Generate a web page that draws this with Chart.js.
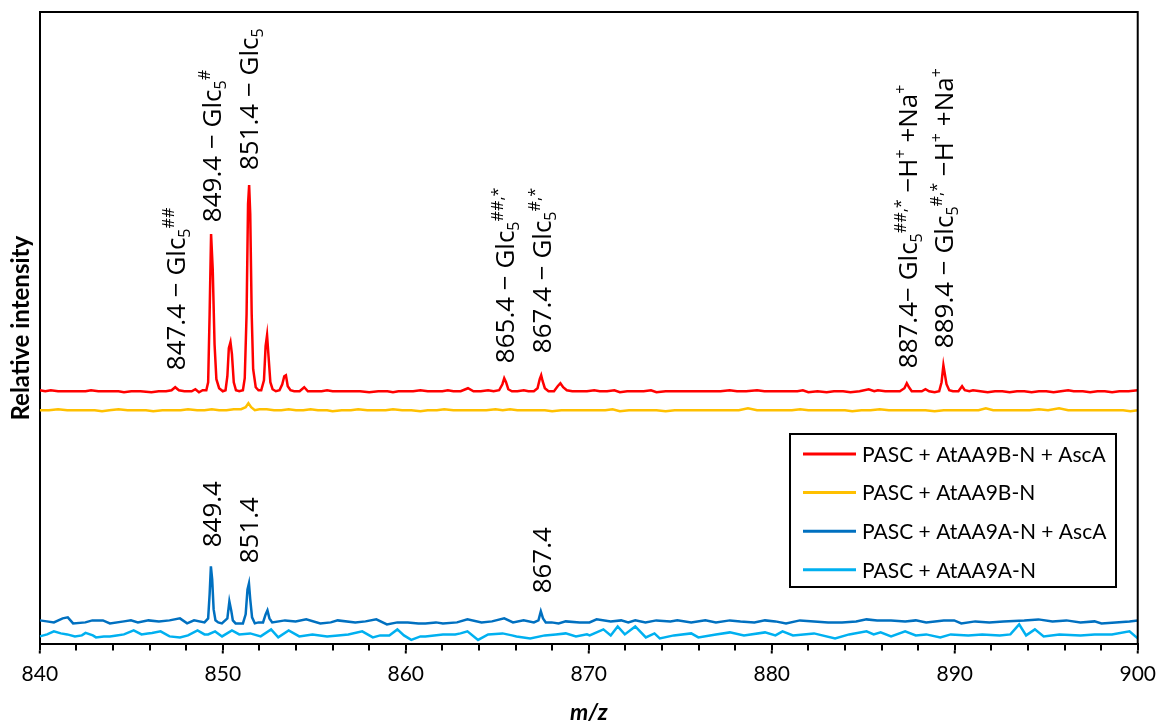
<!DOCTYPE html>
<html>
<head>
<meta charset="utf-8">
<title>MALDI spectra – PASC oxidation products</title>
<script src="https://cdn.jsdelivr.net/npm/chart.js@4.4.1/dist/chart.umd.min.js"></script>
<style>
  html, body { margin: 0; padding: 0; background: #fff; }
</style>
</head>
<body>
<canvas id="spectra" width="1159" height="726"></canvas>
<script>
// ── Data (m/z, relative intensity incl. trace offset) ─────────────

const seriesLabels = [
  'PASC + AtAA9B-N + AscA',
  'PASC + AtAA9B-N',
  'PASC + AtAA9A-N + AscA',
  'PASC + AtAA9A-N',
];

const xTicks = [840, 850, 860, 870, 880, 890, 900];

const redTrace = [
  [840.0,254],[840.3,253],[840.6,254],[841.0,253],[841.5,253],[842.0,253],[842.5,253],[842.8,254],[843.2,253],[843.8,253],
  [844.3,253],[844.6,252],[845.0,253],[845.5,253],[846.1,252],[846.5,253],[846.9,253],[847.2,254],[847.4,257],[847.6,254],
  [847.9,253],[848.3,253],[848.5,255],[848.7,252],[848.9,254],[849.1,254],[849.2,262],[849.28,330],[849.36,410],[849.45,375],
  [849.55,300],[849.65,265],[849.8,256],[850.0,253],[850.15,254],[850.25,268],[850.33,296],[850.42,302],[850.5,290],[850.6,262],
  [850.72,254],[850.9,253],[851.1,254],[851.2,266],[851.3,330],[851.38,440],[851.44,459],[851.5,430],[851.58,330],[851.66,275],
  [851.8,257],[851.95,254],[852.1,254],[852.25,264],[852.34,298],[852.42,309],[852.5,288],[852.6,262],[852.72,255],[852.9,253],
  [853.1,254],[853.25,260],[853.36,268],[853.45,269],[853.55,258],[853.7,254],[853.9,253],[854.2,253],[854.45,257],[854.65,253],
  [855.0,253],[855.4,253],[855.7,254],[856.0,253],[856.5,253],[857.0,253],[857.5,253],[858.0,252],[858.5,253],[859.0,253],
  [859.3,252],[859.6,253],[860.0,253],[860.4,253],[860.8,254],[861.2,253],[861.6,253],[862.0,253],[862.3,254],[862.6,253],
  [863.0,253],[863.4,256],[863.7,253],[864.1,253],[864.5,254],[864.8,253],[865.1,254],[865.28,260],[865.38,266],[865.48,262],
  [865.6,255],[865.8,253],[866.1,253],[866.45,254],[866.7,253],[867.0,253],[867.2,256],[867.32,265],[867.4,269],[867.48,263],
  [867.6,256],[867.8,253],[868.1,253],[868.3,258],[868.45,261],[868.6,257],[868.8,254],[869.1,253],[869.5,253],[869.9,253],
  [870.3,254],[870.6,253],[871.0,253],[871.4,254],[871.7,252],[872.1,253],[872.6,253],[873.0,253],[873.4,254],[873.7,252],
  [874.2,253],[874.8,253],[875.4,253],[876.0,253],[876.6,253],[877.2,253],[877.7,254],[878.1,253],[878.6,253],[879.2,254],
  [879.6,253],[880.0,253],[880.5,253],[881.0,253],[881.4,253],[881.7,254],[882.0,252],[882.5,253],[883.0,252],[883.4,253],
  [883.9,253],[884.3,252],[884.8,253],[885.3,255],[885.6,253],[885.8,254],[886.2,253],[886.6,253],[887.0,253],[887.25,256],
  [887.38,261],[887.5,257],[887.65,253],[887.9,253],[888.2,253],[888.4,255],[888.6,253],[888.9,252],[889.15,253],[889.28,262],
  [889.38,279],[889.46,270],[889.55,260],[889.7,254],[889.9,253],[890.2,253],[890.4,258],[890.55,254],[890.8,253],[891.0,254],
  [891.4,253],[891.8,252],[892.2,253],[892.6,253],[893.0,252],[893.4,253],[893.8,253],[894.2,252],[894.6,253],[895.0,253],
  [895.4,252],[895.8,253],[896.2,254],[896.5,253],[897.0,253],[897.4,252],[897.8,253],[898.2,253],[898.6,252],[899.0,253],
  [899.5,253],[900.0,254],
];

const orangeTrace = [
  [840.0,234],[840.5,234],[841.0,235],[841.5,234],[842.0,234],[842.5,234],[843.0,234],[843.4,233],[843.8,234],[844.3,235],
  [844.8,234],[845.3,234],[845.8,234],[846.2,233],[846.7,234],[847.2,234],[847.7,234],[848.1,235],[848.6,234],[849.0,234],
  [849.4,235],[849.8,234],[850.2,234],[850.6,235],[851.0,235],[851.25,237],[851.4,241],[851.55,237],[851.75,234],[852.0,235],
  [852.4,235],[852.8,234],[853.2,234],[853.6,235],[854.0,234],[854.4,234],[854.8,235],[855.2,234],[855.7,234],[856.0,233],
  [856.5,234],[857.0,234],[857.4,235],[857.9,234],[858.4,234],[858.9,234],[859.3,235],[859.8,234],[860.3,234],[860.8,233],
  [861.2,234],[861.7,234],[862.1,235],[862.6,234],[863.1,234],[863.6,234],[864.0,234],[864.4,234],[864.9,235],[865.3,234],
  [865.7,235],[866.1,234],[866.6,234],[867.1,234],[867.6,234],[868.0,233],[868.5,234],[869.0,234],[869.5,234],[870.0,234],
  [870.4,234],[870.9,234],[871.3,235],[871.7,233],[872.2,234],[872.7,234],[873.2,234],[873.7,234],[874.2,233],[874.7,234],
  [875.2,234],[875.7,234],[876.2,234],[876.7,234],[877.2,234],[877.7,234],[878.2,234],[878.7,236],[879.2,234],[879.7,234],
  [880.2,234],[880.7,234],[881.1,234],[881.55,235],[882.0,234],[882.5,234],[883.0,234],[883.5,234],[884.0,234],[884.4,233],
  [884.9,234],[885.4,234],[885.9,235],[886.4,234],[886.9,234],[887.4,234],[887.9,234],[888.4,234],[888.9,233],[889.4,234],
  [889.9,234],[890.4,234],[890.9,234],[891.3,234],[891.7,236],[892.1,234],[892.6,234],[893.1,234],[893.6,234],[894.1,234],
  [894.6,235],[895.1,234],[895.7,236],[896.2,234],[896.7,234],[897.2,234],[897.7,234],[898.2,234],[898.7,234],[899.2,234],
  [899.6,233],[900.0,234],
];

const blueTrace = [
  [840.0,24],[840.38,23],[840.77,22],[841.25,26],[841.53,27],[841.82,21],[842.49,22],[842.87,24],[843.45,24],[843.83,21],
  [844.6,23],[844.98,24],[845.36,22],[845.94,24],[846.51,23],[847.09,24],[847.66,26],[848.05,21],[848.43,24],[849.0,22],
  [849.2,26],[849.28,50],[849.35,78],[849.42,65],[849.5,35],[849.6,24],[849.75,22],[849.95,21],[850.25,26],[850.36,43],
  [850.46,34],[850.55,24],[850.7,21],[850.9,21],[851.1,21],[851.25,30],[851.35,55],[851.43,61],[851.5,45],[851.6,27],
  [851.75,21],[851.95,22],[852.2,22],[852.34,30],[852.44,34],[852.55,26],[852.7,22],[853.4,24],[853.98,23],[854.56,25],
  [855.33,21],[855.9,22],[856.28,24],[857.24,22],[857.8,23],[858.39,25],[858.97,20],[859.54,22],[860.11,22],[860.69,21],
  [861.07,21],[861.65,22],[862.03,21],[862.8,22],[863.37,25],[864.14,22],[864.71,23],[865.38,26],[865.86,22],[866.44,24],
  [867.0,22],[867.25,24],[867.38,33],[867.5,26],[867.65,22],[867.97,22],[868.35,21],[868.74,23],[869.5,22],[870.04,22],
  [870.43,25],[871.2,23],[871.77,24],[872.16,22],[872.54,24],[873.1,22],[873.69,24],[874.46,23],[874.84,24],[875.6,22],
  [876.37,24],[876.95,22],[877.71,24],[878.29,23],[879.05,22],[879.63,24],[880.2,23],[880.78,21],[881.54,24],[882.31,23],
  [883.08,22],[883.84,22],[884.61,23],[885.18,25],[885.76,24],[886.52,24],[887.29,23],[887.87,24],[888.44,22],[889.4,24],
  [889.97,24],[890.36,21],[891.12,23],[891.89,22],[892.66,23],[893.8,24],[894.57,25],[895.34,23],[896.1,24],[896.87,22],
  [897.64,23],[898.02,21],[898.79,22],[899.55,23],[900.0,24],
];

const skyTrace = [
  [840.0,8],[840.4,10],[840.77,13],[841.15,11],[841.5,10],[841.92,8],[842.3,9],[842.5,11.5],[842.9,9],[843.07,7],
  [843.5,8],[843.83,8],[844.2,9],[844.6,10],[845.13,14],[845.56,10],[845.9,11],[846.13,11.5],[846.6,13],[847.09,8],
  [847.66,7],[848.1,9],[848.62,14],[849.0,10],[849.2,10],[849.58,13],[849.96,8],[850.5,14],[850.9,10],[851.5,11],
  [852.07,8],[852.64,15],[853.03,7],[853.6,14],[854.18,8],[854.9,10],[855.7,8],[856.3,9],[856.86,10],[857.62,13],
  [858.2,7],[858.6,9],[859.1,9],[859.54,15],[859.9,9],[860.3,4.5],[860.8,8],[861.07,8],[862.03,10],[862.7,10],
  [862.99,11],[863.37,13],[863.95,4.5],[864.5,10],[865.29,11],[865.8,9],[866.05,8],[866.8,6],[867.6,9],[868.2,10],
  [868.74,11],[869.3,8],[869.9,10],[870.05,9],[870.8,15],[871.2,9],[871.58,18],[871.97,10],[872.54,18],[873.12,7],
  [873.59,11],[873.88,6],[874.65,9],[875.6,11],[875.99,7],[876.95,10],[877.71,12],[878.48,9],[879.63,12],[880.2,9],
  [880.59,13],[881.16,9],[882.31,11],[883.46,6],[884.23,10],[885.18,13],[885.57,10],[885.95,12],[886.52,8],[887.29,13],
  [887.87,9],[888.44,10],[889.21,7],[889.78,10],[890.74,9],[891.5,10],[892.46,9],[893.04,10],[893.52,20],[893.9,9],
  [894.38,15],[894.86,8],[895.72,10],[896.87,9],[897.64,10],[898.59,10],[899.55,13],[900.0,6],
];

// peak labels: m/z of the peak, intensity where the label starts, rich-text parts
const redLabelMz = [847.4, 849.4, 851.4, 865.4, 867.4, 887.4, 889.4];
const redLabelAt = [274, 422, 474, 281, 291, 276, 296];
const redLabelText = [
  [['847.4 − Glc'], ['5', 'sub'], ['##', 'sup']],
  [['849.4 − Glc'], ['5', 'sub'], ['#', 'sup']],
  [['851.4 − Glc'], ['5', 'sub']],
  [['865.4 − Glc'], ['5', 'sub'], ['##,*', 'sup']],
  [['867.4 − Glc'], ['5', 'sub'], ['#,*', 'sup']],
  [['887.4− Glc'], ['5', 'sub'], ['##,*', 'sup'], [' −H'], ['+', 'sup'], [' +Na'], ['+', 'sup']],
  [['889.4 − Glc'], ['5', 'sub'], ['#,*', 'sup'], [' −H'], ['+', 'sup'], [' +Na'], ['+', 'sup']],
];
const blueLabelMz = [849.4, 851.4, 867.4];
const blueLabelAt = [97, 81, 51];
const blueLabelText = ['849.4', '851.4', '867.4'];

const COLORS = ['#ff0000', '#ffc000', '#0070c0', '#00b0f0'];
const FONT = 'Lato';
const LABEL_FONT = '"Open Sans"';

// ── Helpers ───────────────────────────────────────────────────────

function toPoints(trace) {
  return trace.map(([x, y]) => ({ x, y }));
}

// rotated (bottom-to-top) text with sub/superscripts, body centred on x
function drawRotatedRich(ctx, parts, x, y, size) {
  ctx.save();
  ctx.translate(x, y);
  ctx.rotate(-Math.PI / 2);
  ctx.textBaseline = 'alphabetic';
  ctx.textAlign = 'left';
  ctx.fillStyle = '#000';
  const base = size * 0.36;
  let pos = 0;
  parts.forEach(([text, kind]) => {
    const s = kind ? size * 0.62 : size;
    let dy = base;
    if (kind === 'sub') dy += size * 0.2;
    if (kind === 'sup') dy -= size * 0.42;
    ctx.font = `${s}px ${LABEL_FONT}`;
    ctx.fillText(text, pos, dy);
    pos += ctx.measureText(text).width;
  });
  ctx.restore();
}

// ── Plugin: frame, longer major ticks, peak labels, legend ────────

const decorations = {
  id: 'decorations',
  afterDraw(chart) {
    const { ctx, chartArea: a, scales: { x, y } } = chart;

    // top and right border of the plot box
    ctx.save();
    ctx.strokeStyle = '#000';
    ctx.lineWidth = 2;
    ctx.beginPath();
    ctx.moveTo(a.left, a.top);
    ctx.lineTo(a.right, a.top);
    ctx.lineTo(a.right, a.bottom);
    ctx.stroke();

    // major ticks are a bit longer
    ctx.beginPath();
    xTicks.forEach(v => {
      const px = x.getPixelForValue(v);
      ctx.moveTo(px, a.bottom + 6);
      ctx.lineTo(px, a.bottom + 9);
    });
    ctx.stroke();
    ctx.restore();

    // peak labels
    redLabelMz.forEach((mz, i) => {
      drawRotatedRich(ctx, redLabelText[i], x.getPixelForValue(mz), y.getPixelForValue(redLabelAt[i]), 26);
    });
    blueLabelMz.forEach((mz, i) => {
      drawRotatedRich(ctx, [[blueLabelText[i]]], x.getPixelForValue(mz), y.getPixelForValue(blueLabelAt[i]), 26);
    });

    // legend box
    const box = { left: 790, top: 434, width: 326, height: 153 };
    ctx.save();
    ctx.fillStyle = '#fff';
    ctx.fillRect(box.left, box.top, box.width, box.height);
    ctx.strokeStyle = '#000';
    ctx.lineWidth = 2;
    ctx.strokeRect(box.left, box.top, box.width, box.height);
    ctx.font = `21px ${FONT}`;
    ctx.textBaseline = 'middle';
    ctx.fillStyle = '#000';
    chart.data.datasets.forEach((ds, i) => {
      const rowY = box.top + 20 + i * 38.6;
      ctx.strokeStyle = ds.borderColor;
      ctx.lineWidth = 3;
      ctx.beginPath();
      ctx.moveTo(box.left + 13, rowY);
      ctx.lineTo(box.left + 66, rowY);
      ctx.stroke();
      ctx.fillText(ds.label, box.left + 72, rowY + 1);
    });
    ctx.restore();
  },
};

// ── Chart ─────────────────────────────────────────────────────────

const traces = [redTrace, orangeTrace, blueTrace, skyTrace];

new Chart(document.getElementById('spectra'), {
  type: 'line',
  data: {
    datasets: traces.map((trace, i) => ({
      label: seriesLabels[i],
      data: toPoints(trace),
      borderColor: COLORS[i],
      borderWidth: 2.5,
      pointRadius: 0,
      tension: 0,
      fill: false,
    })),
  },
  options: {
    responsive: false,
    animation: false,
    devicePixelRatio: 1,
    layout: { padding: { left: 4, right: 13, top: 12, bottom: 0 } },
    scales: {
      x: {
        type: 'linear',
        min: 840,
        max: 900,
        ticks: {
          stepSize: 2,
          autoSkip: false,
          maxRotation: 0,
          padding: 3,
          color: '#000',
          font: { family: FONT, size: 21, lineHeight: 2 },
          callback: v => (v % 10 === 0 ? v : ''),
        },
        grid: { drawOnChartArea: false, drawTicks: true, tickLength: 6, color: '#000', lineWidth: 2 },
        border: { display: true, color: '#000', width: 2 },
        title: {
          display: true,
          text: 'm/z',
          color: '#000',
          font: { family: FONT, size: 23, weight: 'bold', style: 'italic' },
          padding: { top: 0, bottom: 0 },
        },
      },
      y: {
        min: 0,
        max: 632,
        ticks: { display: false },
        grid: { display: false, drawTicks: false },
        border: { display: true, color: '#000', width: 2 },
        title: {
          display: true,
          text: 'Relative intensity',
          color: '#000',
          font: { family: FONT, size: 24, weight: 'bold' },
          padding: { top: 3, bottom: 4 },
        },
      },
    },
    plugins: {
      legend: { display: false },
      tooltip: { enabled: false },
    },
  },
  plugins: [decorations],
});
</script>
</body>
</html>
